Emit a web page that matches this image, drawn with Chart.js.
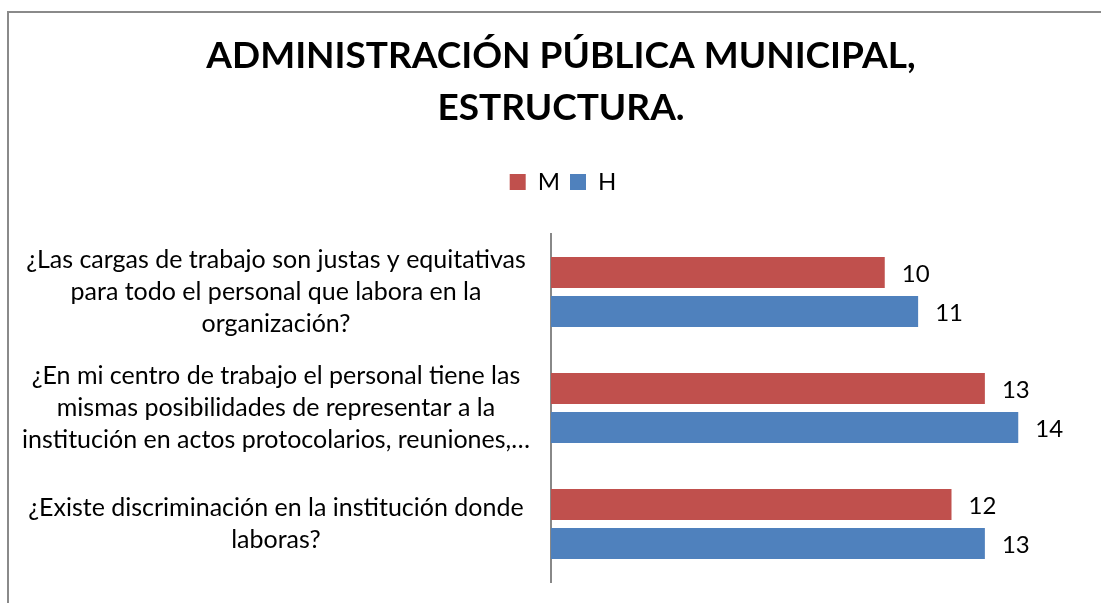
<!DOCTYPE html>
<html>
<head>
<meta charset="utf-8">
<script src="https://cdn.jsdelivr.net/npm/chart.js@4.4.1/dist/chart.umd.min.js"></script>
<style>
  html, body { margin: 0; padding: 0; background: #ffffff; }
  #wrap { width: 1101px; height: 603px; position: relative; }
</style>
</head>
<body>
<div id="wrap"><canvas id="c" width="1101" height="603"></canvas></div>
<script>
const titleLines = ["ADMINISTRACIÓN PÚBLICA MUNICIPAL,", "ESTRUCTURA."];
const categories = [
  ["¿Las cargas de trabajo son justas y equitativas", "para todo el personal que labora en la", "organización?"],
  ["¿En mi centro de trabajo el personal tiene las", "mismas posibilidades de representar a la", "institución en actos protocolarios, reuniones,…"],
  ["¿Existe discriminación en la institución donde", "laboras?"]
];
const seriesNames = ["M", "H"];
const valuesM = [10, 13, 12];
const valuesH = [11, 14, 13];
const colorM = "#C0504D";
const colorH = "#4F81BD";
const FONT = "Lato, 'Open Sans', sans-serif";

const framePlugin = {
  id: 'frame',
  beforeDraw(chart) {
    const ctx = chart.ctx;
    ctx.save();
    ctx.fillStyle = '#ffffff';
    ctx.fillRect(0, 0, chart.width, chart.height);
    ctx.strokeStyle = '#8a8a8a';
    ctx.lineWidth = 2;
    ctx.beginPath();
    ctx.moveTo(8, chart.height);
    ctx.lineTo(8, 12);
    ctx.lineTo(chart.width, 12);
    ctx.stroke();
    ctx.restore();
  }
};

const legendGap = {
  id: 'legendGap',
  beforeInit(chart) {
    if (!chart.legend) return;
    const fit = chart.legend.fit;
    chart.legend.fit = function () {
      fit.call(this);
      this.height += 30;
    };
  },
  afterLayout(chart) {
    if (chart.titleBlock) { chart.titleBlock.left += 10; chart.titleBlock.right += 10; }
    if (chart.legend) { chart.legend.left += 12; chart.legend.right += 12; }
  }
};

const valueLabels = {
  id: 'valueLabels',
  afterDatasetsDraw(chart) {
    const ctx = chart.ctx;
    ctx.save();
    ctx.fillStyle = '#000000';
    ctx.font = "24px " + FONT;
    ctx.textAlign = 'left';
    ctx.textBaseline = 'middle';
    chart.data.datasets.forEach((ds, i) => {
      const meta = chart.getDatasetMeta(i);
      meta.data.forEach((el, j) => {
        ctx.fillText(String(ds.data[j]), el.x + 17, el.y + 2);
      });
    });
    ctx.restore();
  }
};

new Chart(document.getElementById('c'), {
  type: 'bar',
  data: {
    labels: categories,
    datasets: [
      { label: seriesNames[0], data: valuesM, backgroundColor: colorM, categoryPercentage: 0.672, barPercentage: 0.795 },
      { label: seriesNames[1], data: valuesH, backgroundColor: colorH, categoryPercentage: 0.672, barPercentage: 0.795 }
    ]
  },
  options: {
    indexAxis: 'y',
    responsive: false,
    animation: false,
    events: [],
    layout: { padding: { left: 17, right: 16, top: 0, bottom: 21 } },
    plugins: {
      title: {
        display: true,
        text: titleLines,
        color: '#000000',
        font: { family: FONT, size: 37, weight: 'bold', lineHeight: '52px' },
        padding: { top: 30, bottom: 26 }
      },
      legend: {
        display: true,
        position: 'top',
        labels: {
          color: '#000000',
          font: { family: FONT, size: 24 },
          boxWidth: 16,
          boxHeight: 16,
          padding: 10
        }
      },
      tooltip: { enabled: false }
    },
    scales: {
      x: {
        display: false,
        min: 0,
        max: 16
      },
      y: {
        afterFit(scale) { scale.paddingTop = 0; scale.paddingBottom = 0; },
        grid: { display: false, drawTicks: false },
        border: { display: true, color: '#888888', width: 2 },
        ticks: {
          color: '#000000',
          crossAlign: 'center',
          padding: 21,
          font: { family: FONT, size: 25, lineHeight: '32px' }
        }
      }
    }
  },
  plugins: [framePlugin, legendGap, valueLabels]
});
</script>
</body>
</html>
